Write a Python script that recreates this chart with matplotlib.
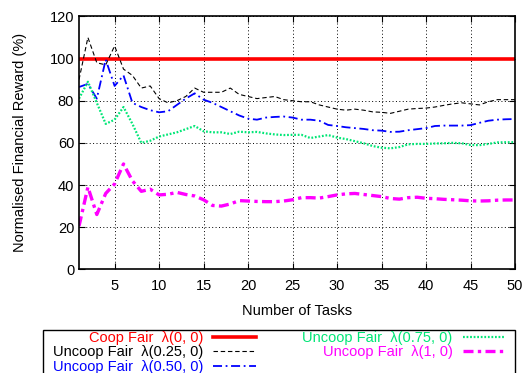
import matplotlib
matplotlib.use("Agg")
import matplotlib.pyplot as plt
from matplotlib.patches import Rectangle
import numpy as np

plt.rcParams['font.family'] = ['Liberation Sans', 'DejaVu Sans']

tasks = list(range(1, 51))
coop = [100] * 50
unc025 = [90, 110, 98, 97, 106, 95, 92, 86, 87, 81, 79, 80, 82, 86, 84, 84, 84, 86, 83, 82,
          81, 81.5, 82, 80.5, 80, 79.5, 79.5, 78, 77, 76, 75.5, 76, 75.5, 74.7, 74.5, 74, 75, 76, 76.3, 76.5,
          77, 77.8, 78.5, 79, 78.5, 78, 79.5, 80.5, 80.5, 80.5]
unc050 = [86.5, 88, 81, 99.5, 87, 92, 79, 77, 75.5, 74.5, 75, 78, 81, 83.5, 80.5, 79, 77, 75, 73, 71.5,
          71, 72, 72.3, 72.5, 72, 71, 71, 70.5, 68.5, 68, 67.4, 67, 66.6, 66, 65.8, 65.2, 65.3, 66, 66.5, 67,
          68, 68.2, 68.2, 68.2, 68.4, 69.5, 70.5, 71, 71.2, 71.3]
unc075 = [81, 89, 79, 69, 71, 77, 69, 60, 61, 63, 64, 65, 66.5, 68, 65.5, 65, 65, 64.2, 65.3, 65,
          65.2, 64.5, 64, 63.7, 63.8, 63.8, 62.3, 63, 63.7, 62.5, 61.8, 60.8, 59.8, 58.5, 57.7, 57.4, 58, 59.3, 59.5, 59.5,
          59.7, 59.8, 60, 59.8, 59, 58.9, 59.5, 60.2, 60.3, 60.3]
unc100 = [20.5, 39, 26, 36, 40.5, 50, 42, 37, 38, 35.3, 35.6, 36.5, 35.5, 34.8, 33, 30.3, 30, 31, 32.6, 32.4,
          32.2, 32.1, 32.1, 32.4, 33, 34, 34, 33.8, 34.5, 35.3, 35.8, 36, 35.5, 35, 34.5, 33.6, 33.3, 34, 34.2, 33.7,
          33.5, 33.2, 33, 32.8, 32.5, 32.4, 32.5, 32.8, 32.9, 32.9]

labels = ['Coop Fair  λ(0, 0)', 'Uncoop Fair  λ(0.25, 0)', 'Uncoop Fair  λ(0.50, 0)',
          'Uncoop Fair  λ(0.75, 0)', 'Uncoop Fair  λ(1, 0)']
xticks = [5, 10, 15, 20, 25, 30, 35, 40, 45, 50]
yticks = [0, 20, 40, 60, 80, 100, 120]

W, H = 525, 373
fig = plt.figure(figsize=(W / 100, H / 100), dpi=100)
ax = fig.add_axes([0.1505, 0.278, 0.8305, 0.678])

colors = ['#ff0000', '#000000', '#0000ff', '#00e676', '#ff00ff']
l1, = ax.plot(tasks, coop, color=colors[0], lw=2.6, label=labels[0])
l2, = ax.plot(tasks, unc025, color=colors[1], lw=0.8, dashes=(4, 2.5), label=labels[1])
l3, = ax.plot(tasks, unc050, color=colors[2], lw=1.3, dashes=(5, 2, 1, 2), label=labels[2])
l4, = ax.plot(tasks, unc075, color=colors[3], lw=1.6, dashes=(0.8, 0.8), label=labels[3])
l5, = ax.plot(tasks, unc100, color=colors[4], lw=2.4, dashes=(3, 1.3, 1, 1.3), label=labels[4])

ax.set_xlim(1, 50)
ax.set_ylim(0, 120)
ax.set_xticks(xticks)
ax.set_yticks(yticks)
ax.tick_params(direction='in', top=True, right=True, length=4, labelsize=10.5, width=0.8)
ax.tick_params(axis='x', pad=7)
ax.grid(True, color='black', linestyle=(0, (1, 2.5)), linewidth=0.7)
for s in ax.spines.values():
    s.set_linewidth(1.2)
ax.set_xlabel('Number of Tasks', fontsize=10.5, labelpad=8)
ax.set_ylabel('Normalised Financial Reward (%)', fontsize=10.5, labelpad=16)

handles = [l1, l2, l3, l4, l5]
leg = fig.legend(handles, labels, ncol=2, markerfirst=False, loc='upper left',
                 bbox_to_anchor=(52 / W, 1 - 330 / H), fontsize=10.5,
                 frameon=False,
                 handlelength=2.9, handletextpad=0.7, labelspacing=0.05, columnspacing=3.2,
                 borderpad=0.05, borderaxespad=0)
for t, c in zip(leg.get_texts(), colors):
    t.set_color(c)

frame = Rectangle((43 / W, -0.05), (515 - 43) / W, 0.05 + (H - 330) / H,
                  transform=fig.transFigure, fill=False, edgecolor='black', linewidth=1.0)
fig.patches.append(frame)

fig.savefig('out.png', dpi=100)
